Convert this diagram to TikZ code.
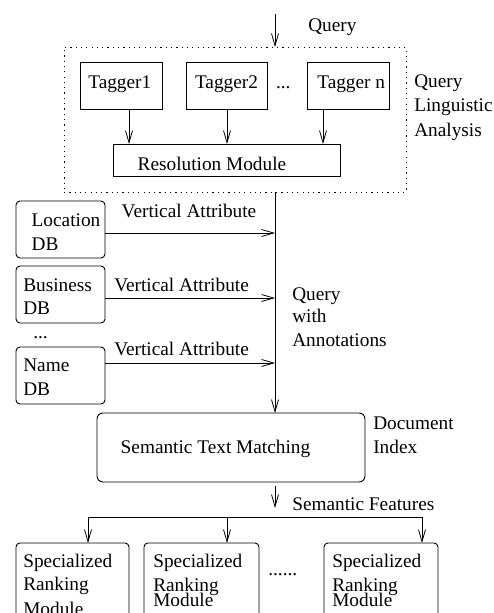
\documentclass[tikz,border=0pt]{standalone}
\usepackage{fontspec}
\setmainfont{Liberation Serif}
\usetikzlibrary{arrows.meta}
\begin{document}
\begin{tikzpicture}[x=1pt,y=-1pt,
  every node/.style={inner sep=0pt,outer sep=0pt},
  txt/.style={anchor=base west,font=\fontsize{19.3}{23.5}\selectfont},
  sqbox/.style={draw,line width=0.9pt,minimum width=#1},
  rbox/.style={draw,line width=0.9pt,rounded corners=4pt},
  arr/.style={line width=0.8pt,-{Straight Barb[length=12pt,width=7pt,line width=0.8pt]}},
  ln/.style={line width=0.8pt}]
\clip (0,0) rectangle (494,613);
\fill[white] (0,0) rectangle (494,613);
% dotted analysis box
\node[draw,line width=1pt,dash pattern=on 1.2pt off 4.1pt,minimum width=342pt,minimum height=145pt] (qla) at (235,119.5) {};
% taggers
\node[draw,line width=0.9pt,minimum width=82pt,minimum height=47pt] (t1) at (121,85.5) {};
\node[draw,line width=0.9pt,minimum width=81pt,minimum height=47pt] (t2) at (226.5,85.5) {};
\node[draw,line width=0.9pt,minimum width=82pt,minimum height=47pt] (tn) at (348,85.5) {};
\node[txt] (t1t) at (88.3,88) {Tagger1};
\node[txt] (t2t) at (195,88) {Tagger2};
\node[txt] (tdots) at (276,88) {...};
\node[txt] (tnt) at (317.3,88) {Tagger n};
\node[draw,line width=0.9pt,minimum width=227pt,minimum height=32pt] (res) at (226.5,160) {};
\node[txt] (rest) at (137.7,170) {Resolution Module};
\node[txt] (qt) at (308.3,31) {Query};
\node[txt] (qlal) at (414.3,87.5) {Query};
\node[txt] (qla2) at (414.3,111.5) {Linguistic};
\node[txt] (qla3) at (414.3,136) {Analysis};
% inputs
\coordinate (qin) at (275,14);
\draw[arr] (qin) -- (qla.north -| qin);
\coordinate (x1) at (129,0);
\coordinate (x2) at (227,0);
\coordinate (x3) at (323,0);
\draw[arr] (t1.south -| x1) -- (res.north -| x1);
\draw[arr] (t2.south -| x2) -- (res.north -| x2);
\draw[arr] (tn.south -| x3) -- (res.north -| x3);
% DB boxes
\node[rbox,minimum width=89pt,minimum height=57pt] (loc) at (60.5,229.5) {};
\node[rbox,minimum width=89pt,minimum height=57pt] (bus) at (60.5,294.5) {};
\node[rbox,minimum width=89pt,minimum height=57pt] (nam) at (60.5,375.5) {};
\node[txt] (loct) at (31.7,226.7) {Location};
\node[txt] (locd) at (31.7,250) {DB};
\node[txt] (bust) at (23.3,291.7) {Business};
\node[txt] (busd) at (23.3,314.5) {DB};
\node[txt] (dbdots) at (33.3,338) {...};
\node[txt] (namt) at (23.3,371.7) {Name};
\node[txt] (namd) at (23.3,395.7) {DB};
\node[txt] (va1) at (121.7,217) {Vertical Attribute};
\node[txt] (va2) at (114.3,291) {Vertical Attribute};
\node[txt] (va3) at (114.3,355.7) {Vertical Attribute};
\coordinate (m1) at (275,233);
\coordinate (m2) at (275,298);
\coordinate (m3) at (275,363);
\draw[arr] (m1 -| loc.east) -- (m1);
\draw[arr] (m2 -| bus.east) -- (m2);
\draw[arr] (m3 -| nam.east) -- (m3);
\node[txt] (qwa1) at (292.3,300.5) {Query};
\node[txt] (qwa2) at (292.3,322.7) {with};
\node[txt] (qwa3) at (292.3,346.7) {Annotations};
% semantic box
\node[draw,line width=0.9pt,rounded corners=6pt,minimum width=268pt,minimum height=69pt] (sem) at (231,447.5) {};
\draw[arr] (qla.south -| qin) -- (sem.north -| qin);
\node[txt] (semt) at (120.7,453.3) {Semantic Text Matching};
\node[txt] (doc1) at (373.3,429.3) {Document};
\node[txt] (doc2) at (373.3,453.3) {Index};
\coordinate (sf1) at (275,486);
\coordinate (sf2) at (275,508);
\draw[arr] (sf1) -- (sf2);
\node[txt] (sft) at (292.3,510) {Semantic Features};
% ranking boxes
\node[rbox,minimum width=113pt,minimum height=90pt] (r1) at (72.5,588) {};
\node[rbox,minimum width=115pt,minimum height=90pt] (r2) at (201.5,588) {};
\node[rbox,minimum width=114pt,minimum height=90pt] (r3) at (381,588) {};
\coordinate (b1) at (88,517);
\coordinate (b2) at (227,517);
\coordinate (b3) at (422,517);
\draw[ln] (b1) -- (b3);
\draw[arr] (b1) -- (r1.north -| b1);
\draw[arr] (b2) -- (r2.north -| b2);
\draw[arr] (b3) -- (r3.north -| b3);
\node[txt] (r1a) at (23.3,567) {Specialized};
\node[txt] (r1b) at (23.3,590.5) {Ranking};
\node[txt] (r1c) at (23.3,615) {Module};
\node[txt] (r2a) at (153.3,567) {Specialized};
\node[txt] (r2b) at (153.3,591.5) {Ranking};
\node[txt] (r2c) at (153.3,606.7) {Module};
\node[txt] (rdots) at (268.3,575) {......};
\node[txt] (r3a) at (332.3,567) {Specialized};
\node[txt] (r3b) at (332.3,591.5) {Ranking};
\node[txt] (r3c) at (332.3,606.7) {Module};
\end{tikzpicture}
\end{document}
